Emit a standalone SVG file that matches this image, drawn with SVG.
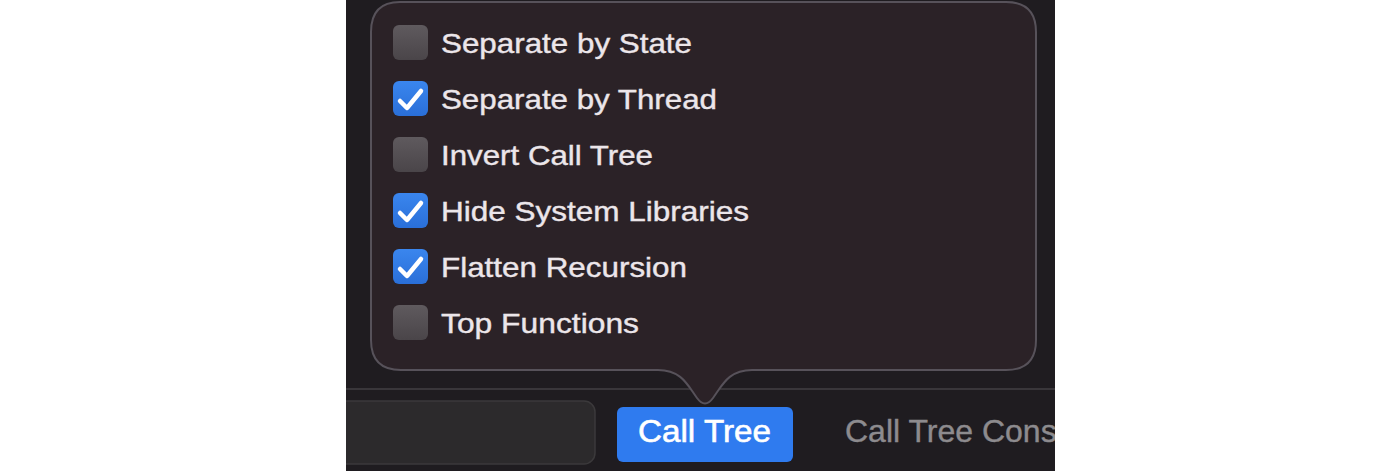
<svg xmlns="http://www.w3.org/2000/svg" width="1400" height="471" viewBox="0 0 1400 471">
<defs>
<linearGradient id="ub" x1="0" y1="0" x2="0" y2="1">
<stop offset="0" stop-color="#5f5a5e"/>
<stop offset="1" stop-color="#4a4549"/>
</linearGradient>
<linearGradient id="cb" x1="0" y1="0" x2="0" y2="1">
<stop offset="0" stop-color="#3a86ee"/>
<stop offset="1" stop-color="#2a6fd8"/>
</linearGradient>
<style>
.lbl{font-family:"Liberation Sans",Arial,sans-serif;font-size:28px;fill:#ece6ea;stroke:#ece6ea;stroke-width:0.4}
.unc{fill:url(#ub)}
.chk{fill:url(#cb)}
.tick{fill:none;stroke:#ffffff;stroke-width:4.5;stroke-linecap:round;stroke-linejoin:round}
</style>
</defs>
<rect x="0" y="0" width="1400" height="471" fill="#ffffff"/>
<rect x="346" y="0" width="709" height="471" fill="#1f1c20"/>
<line x1="346" y1="389" x2="1055" y2="389" stroke="#39363a" stroke-width="2"/>
<g id="search">
<rect x="330" y="401" width="265" height="63" rx="11" fill="#2c2a2c" stroke="#3b393b" stroke-width="1.5"/>
</g>
<g id="popover">
<path d="M400,2 H1006 Q1036,2 1036,32 V340 Q1036,370 1006,370 H752 C728,370 722,386 713,398 Q705,409 697,398 C688,386 682,370 658,370 H401 Q371,370 371,340 V32 Q371,2 400,2 Z" fill="#2b2227" stroke="#57525a" stroke-width="2"/>
</g>
<g id="opt1">
<rect class="unc" x="393" y="25" width="35" height="35" rx="6"/>
<text class="lbl" x="441" y="53" textLength="251" lengthAdjust="spacingAndGlyphs">Separate by State</text>
</g>
<g id="opt2">
<rect class="chk" x="393" y="81" width="35" height="35" rx="6"/>
<path class="tick" d="M400,101 L407,108 L421,91"/>
<text class="lbl" x="441" y="109" textLength="276" lengthAdjust="spacingAndGlyphs">Separate by Thread</text>
</g>
<g id="opt3">
<rect class="unc" x="393" y="137" width="35" height="35" rx="6"/>
<text class="lbl" x="441" y="165" textLength="212" lengthAdjust="spacingAndGlyphs">Invert Call Tree</text>
</g>
<g id="opt4">
<rect class="chk" x="393" y="193" width="35" height="35" rx="6"/>
<path class="tick" d="M400,213 L407,220 L421,203"/>
<text class="lbl" x="441" y="221" textLength="308" lengthAdjust="spacingAndGlyphs">Hide System Libraries</text>
</g>
<g id="opt5">
<rect class="chk" x="393" y="249" width="35" height="35" rx="6"/>
<path class="tick" d="M400,269 L407,276 L421,259"/>
<text class="lbl" x="441" y="277" textLength="246" lengthAdjust="spacingAndGlyphs">Flatten Recursion</text>
</g>
<g id="opt6">
<rect class="unc" x="393" y="305" width="35" height="35" rx="6"/>
<text class="lbl" x="441" y="333" textLength="198" lengthAdjust="spacingAndGlyphs">Top Functions</text>
</g>
<g id="btn">
<rect x="617" y="407" width="176" height="55" rx="6" fill="#2f7bef"/>
<text x="638" y="442" font-family="Liberation Sans,Arial,sans-serif" font-size="32" fill="#ffffff" stroke="#ffffff" stroke-width="0.6" textLength="133" lengthAdjust="spacingAndGlyphs">Call Tree</text>
</g>
<g id="tab2">
<text x="845" y="442" font-family="Liberation Sans,Arial,sans-serif" font-size="32" fill="#8d8b8e" stroke="#8d8b8e" stroke-width="0.4">Call Tree Constraints</text>
</g>
<rect x="1055" y="0" width="345" height="471" fill="#ffffff"/>
<rect x="0" y="0" width="346" height="471" fill="#ffffff"/>
</svg>
